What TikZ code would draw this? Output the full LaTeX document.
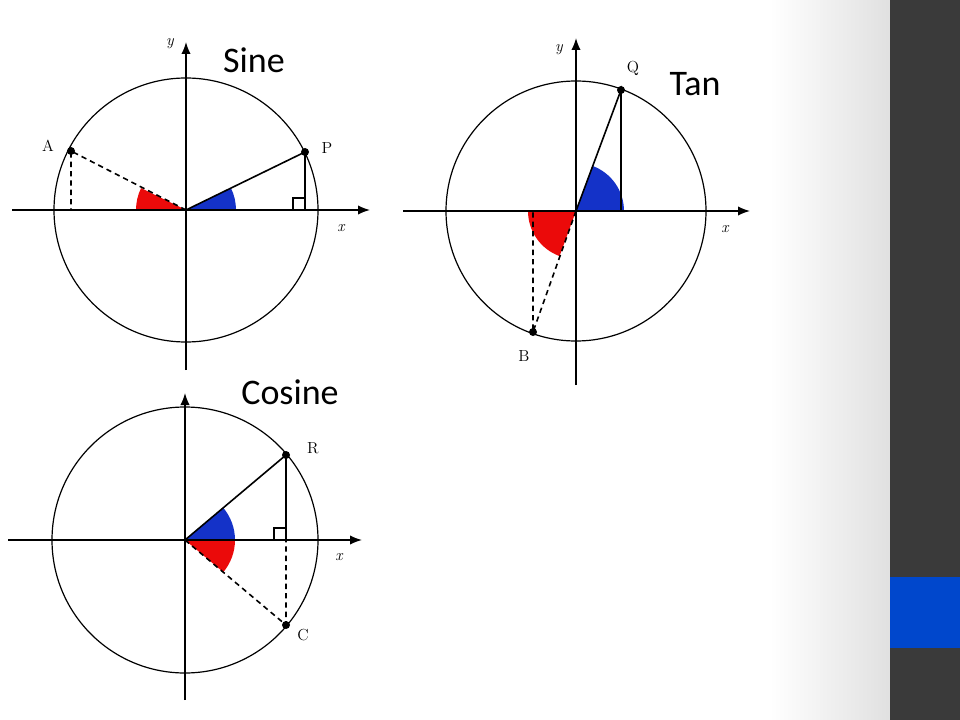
\documentclass[tikz,border=0pt]{standalone}
\usepackage{fontspec}
\newfontfamily\slidefont{Carlito}
\usetikzlibrary{arrows.meta}
\definecolor{barcol}{RGB}{58,58,58}
\definecolor{blockblue}{RGB}{0,71,204}
\definecolor{wedgeblue}{RGB}{20,50,200}
\definecolor{wedgered}{RGB}{235,10,10}

\begin{document}
\begin{tikzpicture}[x=0.75pt,y=0.75pt,yscale=-1,xscale=1,
	axis/.style={line width=1.1pt,-{Latex[length=9pt,width=7pt]}},
	ring/.style={line width=0.9pt},
	arm/.style={line width=1.2pt},
	dashline/.style={line width=1.2pt,dash pattern={on 4pt off 3pt}},
	dot/.style={circle,fill=black,inner sep=0pt,minimum size=6pt},
	lbl/.style={font=\rmfamily\large},
	title/.style={font=\slidefont\fontsize{27}{30}\selectfont}]
	\useasboundingbox (0,0) rectangle (960,720);
	%background
	\shade[left color=white,right color=black!12] (770,0) rectangle (890,720);
	\fill[barcol] (890,0) rectangle (960,720);
	\fill[blockblue] (890,577) rectangle (960,648);
	
	%Sine
	\coordinate (O1) at (186,210);
	\coordinate (P) at (305,152);
	\coordinate (A) at (71,151);
	\fill[wedgeblue] (O1) -- ++(50,0) arc (0:-26:50) -- cycle;
	\fill[wedgered] (O1) -- ++(-50,0) arc (-180:-154:50) -- cycle;
	\draw[ring] (O1) circle [radius=132];
	\draw[axis] (12,210) -- (370,210);
	\draw[axis] (186,370) -- (186,42);
	\draw[arm] (O1) -- (P) -- (305,210);
	\draw[line width=0.9pt] (293,210) -- (293,198) -- (305,198);
	\draw[dashline] (O1) -- (A) -- (71,210);
	\node[dot] at (P) {};
	\node[dot] at (A) {};
	\node[lbl] (lP) at (327,148) {P};
	\node[lbl] (lA) at (48,146) {A};
	\node[lbl,font=\rmfamily\itshape\large] (x1) at (341,228) {x};
	\node[lbl,font=\rmfamily\itshape\large] (y1) at (170,44) {y};
	\node[title] (sine) at (254,60) {Sine};
	
	%Tan
	\coordinate (O2) at (576,211);
	\coordinate (Q) at (621,90);
	\coordinate (B) at (533,332);
	\fill[wedgeblue] (O2) -- ++(48,0) arc (0:-70:48) -- cycle;
	\fill[wedgered] (O2) -- ++(-48,0) arc (-180:-250:48) -- cycle;
	\draw[ring] (O2) circle [radius=130];
	\draw[axis] (403,211) -- (750,211);
	\draw[axis] (576,385) -- (576,38);
	\draw[arm] (O2) -- (Q) -- (621,211);
	\draw[dashline] (O2) -- (B) -- (533,211);
	\node[dot] at (Q) {};
	\node[dot] at (B) {};
	\node[lbl] (lQ) at (633,68) {Q};
	\node[lbl] (lB) at (524,356) {B};
	\node[lbl,font=\rmfamily\itshape\large] (x2) at (725,229) {x};
	\node[lbl,font=\rmfamily\itshape\large] (y2) at (559,50) {y};
	\node[title] (tan) at (695,84) {Tan};
	
	%Cosine
	\coordinate (O3) at (185,540);
	\coordinate (R) at (286,455);
	\coordinate (C) at (286,625);
	\fill[wedgeblue] (O3) -- ++(50,0) arc (0:-40:50) -- cycle;
	\fill[wedgered] (O3) -- ++(50,0) arc (0:40:50) -- cycle;
	\draw[ring] (O3) circle [radius=133];
	\draw[axis] (8,540) -- (362,540);
	\draw[axis] (185,700) -- (185,393);
	\draw[arm] (O3) -- (R) -- (286,540);
	\draw[line width=0.9pt] (274,540) -- (274,528) -- (286,528);
	\draw[dashline] (O3) -- (C) -- (286,540);
	\node[dot] at (R) {};
	\node[dot] at (C) {};
	\node[lbl] (lR) at (313,448) {R};
	\node[lbl] (lC) at (303,635) {C};
	\node[lbl,font=\rmfamily\itshape\large] (x3) at (339,557) {x};
	\node[title] (cosine) at (290,392) {Cosine};
\end{tikzpicture}
\end{document}
